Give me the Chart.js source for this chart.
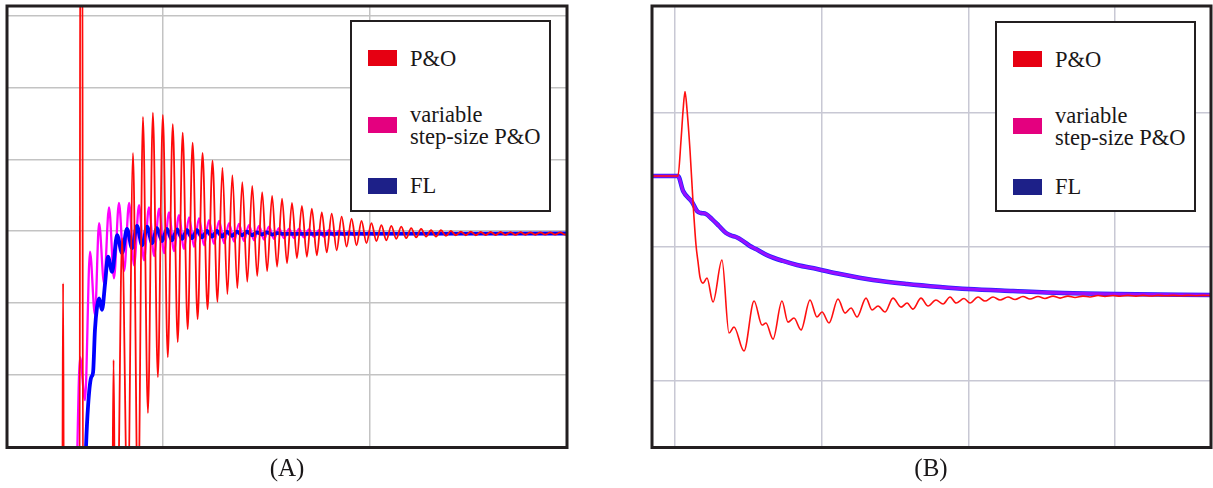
<!DOCTYPE html>
<html>
<head>
<meta charset="utf-8">
<script src="https://cdn.jsdelivr.net/npm/chart.js@4.4.1/dist/chart.umd.min.js"></script>
<style>
  html, body { margin: 0; padding: 0; background: #fff; }
  body { width: 1213px; height: 488px; position: relative; overflow: hidden;
         font-family: 'Liberation Serif', 'Times New Roman', serif; color: #1a1718; }
  canvas { position: absolute; top: 0; }
  #chartA { left: 0; }
  #chartB { left: 610px; }
  .legend { position: absolute; box-sizing: border-box; border: 2px solid #231f20; background: #fff;
            width: 201px; height: 192px; top: 20px; }
  .sw { position: absolute; left: 16px; width: 29px; height: 16px; }
  .lbl { position: absolute; left: 58px; font-size: 22.5px; line-height: 22px; white-space: nowrap; }
  .cap { position: absolute; top: 455px; width: 100px; text-align: center; font-size: 25px; line-height: 25px; }
</style>
</head>
<body>
<canvas id="chartA" width="610" height="470"></canvas>
<canvas id="chartB" width="603" height="470"></canvas>
<div class="legend" id="legA" style="left:350px"></div>
<div class="legend" id="legB" style="left:995px; top:21px; height:191px"></div>
<div class="cap" style="left:237px">(A)</div>
<div class="cap" style="left:881px">(B)</div>

<script>
// --- DATA ---
// legend
const seriesNames = ['P&O', 'variable step-size P&O', 'FL'];
const legendLines = [['P&O'], ['variable', 'step-size P&O'], ['FL']];
const swatchColors = ['#e60012', '#e4007f', '#1d2088'];

// panel (A): time in ms, power in W
const axisA_x = [24.6, 295.2];
const axisA_y = [-2.1, 613.8];
const gridA_x = [100, 200];
const gridA_y = [100, 200, 300, 400, 500, 600];

const poA = [
  [24.6,-103],[51.3,-103],[51.7,227],[52.1,-103],[59.7,-103],[60.0,800],[61.0,800],[61.3,-103],
  [75.4,-103],[76.1,120],[76.8,-103],[78.0,-103],[80.2,290],[82.9,-103],[85.5,409],[87.9,-103],
  [90.3,459],[92.7,46],[95.1,465],[97.5,96],[99.9,462],[102.3,124],[104.7,449],[107.1,145],
  [109.5,437],[111.9,163],[114.3,423],[116.7,177],[119.1,409],[121.5,191],[123.9,398],[126.3,201],
  [128.7,388],[131.1,212],[133.5,378],[135.9,220],[138.3,368],[140.7,229],[143.1,363],[145.5,237],
  [147.9,354],[150.3,244],[152.7,349],[155.1,250],[157.5,345],[159.9,255],[162.3,339],[164.7,262],
  [167.1,335],[169.5,264],[171.9,331],[174.3,266],[176.7,326],[179.1,270],[181.5,324],[183.9,273],
  [186.3,320],[188.7,278],[191.1,317],[193.5,280],[195.9,314],[198.3,283],[200.7,311],[203.1,286],
  [205.5,308],[207.9,287],[210.3,307],[212.7,289],[215.1,306],[217.5,290],[219.9,304],[222.3,291],
  [224.7,303],[227.1,292],[229.5,301],[231.9,292],[234.3,301],[236.7,293],[239.1,300],[241.5,294],
  [243.9,299],[246.3,294],[248.7,299],[251.1,294],[253.5,298.5],[255.9,294.3],[258.3,298.5],
  [260.7,294.3],[263.1,298.5],[265.5,294.5],[267.9,298.3],[270.3,294.5],[272.7,298.3],[275.1,294.7],
  [277.5,298.1],[279.9,294.7],[282.3,298.1],[284.7,294.9],[287.1,298],[289.5,294.9],[291.9,298],
  [294.3,295],[295.2,296]
];

const vssA = [
  [24.6,-103],[57.5,-103],[59.9,124],[62.3,64],[64.7,271],[67.1,183],[69.1,311],[71.5,227],
  [73.9,333],[76.3,234],[78.7,339],[81.2,244],[83.6,339],[86.0,252],[88.4,336],[90.8,259],
  [93.2,333],[95.7,265],[98.1,331],[100.5,269],[102.9,326],[105.3,272],[107.7,322],[110.1,275],
  [112.6,319],[115.0,278],[117.4,318],[119.8,280],[122.2,315],[124.6,282],[127.1,314],[129.5,283],
  [131.9,311],[134.3,285],[136.7,310],[139.1,286],[141.5,308],[144.0,287],[146.4,307],[148.8,288],
  [151.2,306],[153.6,289],[156.0,304],[158.5,290],[160.9,303],[163.3,290],[165.7,303],[168.1,291],
  [170.5,302],[172.9,292],[175.4,301],[177.8,292],[180.2,301],[182.6,293],[185.0,300],[187.4,294],
  [189.9,299],[192.3,294],[194.7,298],[197.1,295],[199.5,298],[201.9,295],[204.3,297],[206.8,296],
  [295.2,296.4]
];

const flA = [
  [24.6,-103],[61.8,-103],[62.8,0],[63.8,57],[65.2,95],[66.2,103],[67.1,162],[68.1,194],
  [69.1,206],[70.5,190],[72.0,227],[73.4,264],[75.4,243],[77.8,294],[80.2,269],[82.6,303],
  [85.0,276],[87.4,307],[89.9,280],[92.3,306],[94.7,283],[97.1,304],[99.5,286],[101.9,303],
  [104.3,287],[106.8,302],[109.2,289],[111.6,301],[114.0,290],[116.4,301],[118.8,291],[121.3,300],
  [123.7,292],[126.1,300],[128.5,292],[130.9,299],[133.3,293],[135.7,299],[138.2,294],[140.6,299],
  [143.0,294],[145.4,298],[147.8,295],[150.2,298],[152.7,295],[155.1,297],[157.5,296],[295.2,296.4]
];

// panel (B): zoomed step response
const axisB_x = [-15.7, 365.4];
const axisB_y = [50.4, 379.9];
const gridB_x = [0, 100, 200, 300];
const gridB_y = [100, 200, 300];

const poB = [
  [-15.7,253.0],[2.0,253.0],[4.1,279.9],[5.5,302.2],[6.8,316.1],[8.2,302.2],[10.2,272.4],[12.3,232.8],
  [14.3,201.5],[15.7,188.8],[17.0,177.6],[19.1,173.1],[21.8,176.9],[25.9,159.0],[32.0,190.3],
  [36.8,135.8],[40.2,140.3],[47.0,122.4],[53.9,159.7],[59.3,141.8],[62.0,143.3],[66.8,131.3],
  [72.9,159.7],[77.0,144.0],[81.1,147.0],[85.9,138.1],[92.0,160.5],[96.8,147.8],[100.2,151.5],
  [105.0,143.3],[111.1,161.2],[115.9,150.7],[120.0,154.5],[124.1,147.8],[130.2,161.9],[134.3,153.0],
  [138.4,156.0],[143.2,151.5],[148.6,161.9],[154.1,155.2],[158.2,158.2],[162.2,153.7],[167.7,161.9],
  [172.5,156.0],[177.9,160.5],[182.7,157.5],[187.5,162.7],[191.6,158.2],[197.0,161.6],[201.1,158.2],
  [206.6,162.7],[211.3,159.7],[216.8,162.7],[221.6,160.5],[227.0,162.7],[231.8,160.8],[237.2,163.1],
  [242.0,161.2],[247.5,163.1],[252.2,161.6],[257.7,163.4],[262.5,161.9],[267.9,163.4],[272.7,162.3],
  [278.1,163.4],[282.9,162.7],[288.4,163.8],[293.1,163.1],[298.6,163.8],[303.4,163.3],[308.8,163.9],
  [314.3,163.4],[319.0,163.9],[324.5,163.5],[329.3,163.9],[334.7,163.6],[339.5,163.9],[344.9,163.6],
  [349.7,163.9],[355.2,163.7],[359.9,163.9],[365.4,163.8]
];

// FL and variable step-size P&O lie on top of each other in (B)
const flB = [
  [-15.7,253.0],[2.0,253.0],[5.5,241.8],[11.6,233.6],[15.0,226.9],[17.7,225.4],[21.1,224.7],
  [25.2,220.9],[30.0,215.7],[34.8,210.5],[38.2,208.6],[41.6,207.5],[46.4,204.5],[51.1,200.8],
  [55.2,198.5],[62.7,194.0],[73.6,189.6],[83.2,186.6],[96.8,183.6],[112.5,179.9],[135.0,175.4],
  [158.2,172.4],[180.7,170.2],[199.7,168.7],[230.4,167.2],[264.5,165.7],[300.0,164.9],[365.4,164.2]
];
const vssB = flB;

// --- CHARTS ---
const framePlugin = {
    id: 'frame',
    afterDraw(chart) {
        const { ctx, chartArea: a } = chart;
        ctx.save();
        ctx.strokeStyle = '#231f20';
        ctx.lineWidth = 3;
        ctx.strokeRect(a.left, a.top, a.right - a.left, a.bottom - a.top);
        ctx.restore();
    }
};

const toXY = arr => arr.map(([x, y]) => ({ x, y }));

function axis(range, ticks, gridColor) {
    return {
        type: 'linear',
        min: range[0],
        max: range[1],
        afterBuildTicks: ax => { ax.ticks = ticks.map(v => ({ value: v })); },
        ticks: { display: false },
        grid: { color: gridColor, lineWidth: 1.5, drawTicks: false },
        border: { display: false }
    };
}

function makeChart(id, datasets, xr, yr, gx, gy, pad, gridColor) {
    return new Chart(document.getElementById(id), {
        type: 'line',
        data: { datasets },
        options: {
            responsive: false,
            animation: false,
            events: [],
            layout: { padding: pad },
            plugins: { legend: { display: false }, tooltip: { enabled: false } },
            elements: { point: { radius: 0 }, line: { cubicInterpolationMode: 'monotone' } },
            scales: { x: axis(xr, gx, gridColor), y: axis(yr, gy, gridColor) }
        },
        plugins: [framePlugin]
    });
}

// first dataset is drawn on top
makeChart('chartA', [
    { label: seriesNames[0], data: toXY(poA), borderColor: '#ff0a0a', borderWidth: 1.8, clip: 0 },
    { label: seriesNames[2], data: toXY(flA), borderColor: '#0000ff', borderWidth: 3.8, clip: 0 },
    { label: seriesNames[1], data: toXY(vssA), borderColor: '#ff00ff', borderWidth: 2.3, clip: 0 }
], axisA_x, axisA_y, gridA_x, gridA_y, { left: 7, top: 6, right: 43, bottom: 22.5 }, '#c3c3c3');

makeChart('chartB', [
    { label: seriesNames[0], data: toXY(poB), borderColor: '#ff1010', borderWidth: 1.6, clip: 0 },
    { label: seriesNames[1], data: toXY(vssB), borderColor: 'rgba(255,0,255,0.55)', borderWidth: 3, clip: 0 },
    { label: seriesNames[2], data: toXY(flB), borderColor: '#2020ff', borderWidth: 4.5, clip: 0 }
], axisB_x, axisB_y, gridB_x, gridB_y, { left: 42, top: 6, right: 2, bottom: 22.5 }, '#c8c8d4');

// --- LEGENDS ---
const swatchTops = [28, 95, 156];
const labelTops = [25.6, 81.6, 152.6];

function buildLegend(id) {
    const box = document.getElementById(id);
    legendLines.forEach((lines, i) => {
        const sw = document.createElement('div');
        sw.className = 'sw';
        sw.style.top = swatchTops[i] + 'px';
        sw.style.background = swatchColors[i];
        box.appendChild(sw);

        const lbl = document.createElement('div');
        lbl.className = 'lbl';
        lbl.style.top = labelTops[i] + 'px';
        lbl.innerHTML = lines.map(l => l.replace('&', '&amp;')).join('<br>');
        box.appendChild(lbl);
    });
}
buildLegend('legA');
buildLegend('legB');
</script>
</body>
</html>
